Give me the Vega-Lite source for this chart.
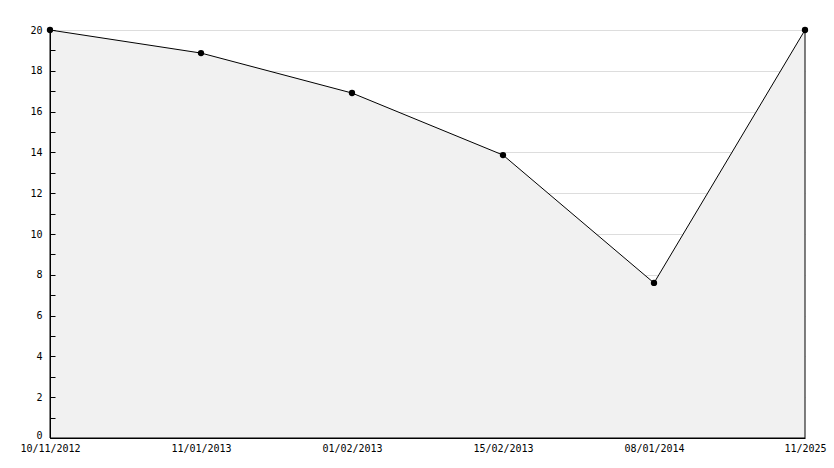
{
  "$schema": "https://vega.github.io/schema/vega-lite/v6.json",
  "autosize": "none",
  "width": 755,
  "height": 408,
  "padding": {"left": 50, "top": 30, "right": 29, "bottom": 30},
  "background": "white",
  "config": {
    "view": {"stroke": null},
    "font": "DejaVu Sans Mono"
  },
  "data": {
    "values": [
      {"date": "10/11/2012", "value": 20},
      {"date": "11/01/2013", "value": 18.87},
      {"date": "01/02/2013", "value": 16.91},
      {"date": "15/02/2013", "value": 13.87},
      {"date": "08/01/2014", "value": 7.6},
      {"date": "11/2025", "value": 20}
    ]
  },
  "encoding": {
    "x": {
      "field": "date",
      "type": "ordinal",
      "sort": null,
      "scale": {"type": "point", "padding": 0},
      "axis": {
        "title": null,
        "labelAngle": 0,
        "labelFont": "DejaVu Sans Mono",
        "labelFontSize": 10,
        "labelColor": "black",
        "ticks": false,
        "domain": true,
        "domainColor": "black",
        "labelPadding": 5,
        "grid": false
      }
    }
  },
  "layer": [
    {
      "mark": {"type": "area", "fill": "#f1f1f1", "stroke": "black", "strokeWidth": 1},
      "encoding": {
        "y": {
          "field": "value",
          "type": "quantitative",
          "scale": {"domain": [0, 20], "nice": false},
          "axis": {
            "title": null,
            "orient": "left",
            "values": [0,2,4,6,8,10,12,14,16,18,20],
            "labels": false,
            "ticks": false,
            "domain": false,
            "grid": true,
            "gridColor": "#dddddd"
          }
        }
      }
    },
    {
      "mark": {"type": "point", "shape": "circle", "filled": true, "color": "black", "size": 40, "opacity": 1},
      "encoding": {
        "y": {
          "field": "value",
          "type": "quantitative",
          "scale": {"domain": [0, 20], "nice": false},
          "axis": {
            "title": null,
            "orient": "left",
            "zindex": 1,
            "values": [0,1,2,3,4,5,6,7,8,9,10,11,12,13,14,15,16,17,18,19,20],
            "labelExpr": "datum.value % 2 == 0 ? datum.label : ''",
            "labelFont": "DejaVu Sans Mono",
            "labelFontSize": 10,
            "labelColor": "black",
            "labelOffset": {"condition": {"test": "datum.value == 0", "value": -3}, "value": 0},
            "domainColor": "black",
            "tickColor": "black",
            "tickSize": -5,
            "labelPadding": 13,
            "grid": false
          }
        }
      }
    }
  ],
  "resolve": {"axis": {"y": "independent"}}
}
